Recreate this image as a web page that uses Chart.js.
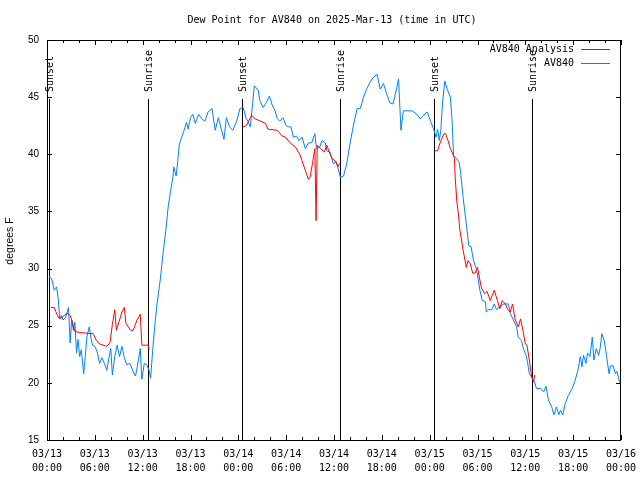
<!DOCTYPE html>
<html>
<head>
<meta charset="utf-8">
<script src="https://cdn.jsdelivr.net/npm/chart.js@4"></script>
<style>
body { margin:0; background:#fff; }
</style>
</head>
<body>
<canvas id="Diagramm" width="640" height="480"></canvas>
<script>
// hours since 03/13 00:00 UTC
var obsHours = [0.25,0.6,0.9,1.2,1.4,1.6,1.8,2.0,2.3,2.5,2.7,2.9,3.1,3.3,3.5,3.7,3.9,4.1,4.3,4.6,4.8,5.0,5.3,5.5,5.7,6.0,6.3,6.6,6.9,7.2,7.5,7.8,8.0,8.2,8.5,8.8,9.1,9.4,9.7,10.0,10.4,10.8,11.1,11.3,11.7,11.9,12.2,12.5,12.8,13.0,13.2,13.5,13.8,14.2,14.6,14.9,15.2,15.5,15.8,15.9,16.2,16.4,16.6,16.9,17.2,17.5,17.7,18.0,18.3,18.6,19.0,19.4,19.8,20.2,20.7,21.1,21.5,22.2,22.5,22.9,23.3,23.8,24.2,24.6,25.0,25.2,25.5,25.8,26.0,26.5,26.7,27.1,27.5,27.9,28.2,28.6,28.9,29.2,29.6,30.0,30.3,30.6,30.9,31.3,31.6,32.0,32.4,32.8,33.2,33.6,33.8,34.2,34.5,34.9,35.1,35.5,35.9,36.3,36.8,37.2,37.6,38.0,38.4,38.9,39.3,39.7,40.1,40.5,40.9,41.4,41.8,42.2,42.6,43.0,43.4,43.9,44.1,44.4,44.7,45.8,46.4,46.8,47.2,47.7,48.1,48.5,48.8,49.0,49.2,49.4,49.6,49.9,50.2,50.6,50.8,51.0,51.4,51.7,51.9,52.2,52.7,52.9,53.2,53.5,53.9,54.1,54.3,54.6,55.0,55.1,55.4,55.8,56.1,56.4,56.8,57.3,57.9,58.1,58.5,58.9,59.1,59.5,59.8,60.1,60.3,60.5,60.8,61.1,61.4,61.9,62.3,62.6,62.9,63.3,63.6,63.9,64.2,64.4,64.7,65.0,65.4,65.8,66.2,66.6,66.9,67.1,67.3,67.6,67.8,68.1,68.4,68.6,68.9,69.2,69.4,69.6,69.9,70.2,70.5,70.7,71.0,71.3,71.5,71.8,72.0];
var obsDew = [29.3,29.1,28.1,28.4,27.4,25.6,25.9,25.5,25.7,26.1,26.6,23.5,25.5,24.6,25.3,22.6,23.8,22.3,22.9,20.8,22.3,24.0,24.9,24.0,23.3,23.2,22.7,21.7,22.2,21.7,21.1,22.3,23.0,20.7,22.3,23.3,22.3,23.2,22.2,21.6,21.7,21.0,20.6,21.3,23.0,20.3,21.7,21.6,21.1,20.4,22.3,24.9,26.9,29.0,31.6,33.3,35.4,36.8,38.0,38.9,38.1,39.4,40.9,41.5,42.1,42.8,42.2,43.2,43.5,42.7,43.5,43.1,42.9,43.7,44.0,42.1,43.2,41.3,43.2,42.4,42.1,42.9,44.0,44.1,43.1,42.9,42.4,44.5,46.0,45.6,44.7,44.1,44.5,45.1,44.4,43.8,43.1,42.9,43.2,42.5,42.4,42.4,41.5,41.6,41.2,41.5,40.5,41.0,41.0,41.8,40.5,40.6,41.2,41.0,40.3,40.2,39.2,39.3,38.0,38.1,39.2,40.9,42.4,44.0,44.0,45.0,45.7,46.3,46.7,47.0,45.7,46.2,45.3,44.5,44.4,45.9,46.6,42.1,43.8,43.8,43.5,43.1,43.4,43.7,42.9,42.2,41.5,42.2,41.2,42.1,44.4,46.4,45.7,45.0,43.1,39.9,39.6,39.3,38.3,36.2,33.3,32.0,31.9,30.7,29.9,29.0,28.1,27.2,27.1,26.2,26.4,26.4,26.9,26.4,26.7,26.9,26.9,26.1,25.5,24.9,24.0,23.7,22.9,22.4,21.7,20.8,20.5,20.2,19.5,19.5,19.2,19.7,18.5,17.9,17.2,17.9,17.2,17.6,17.2,18.2,18.9,19.4,20.1,21.1,22.3,21.4,22.4,21.7,22.6,22.3,24.0,22.0,23.0,22.4,23.1,24.3,23.7,22.3,20.8,21.5,21.5,20.8,21.0,20.1,19.9];

// analysis, null = no data
var anaHours = [0.5,0.9,1.3,1.6,2.0,2.5,2.9,3.2,3.5,4.1,5.8,6.2,6.6,7.5,7.9,8.2,8.5,8.7,9.1,9.4,9.7,9.9,10.5,10.8,11.3,11.7,11.9,12.7,12.8,18,24.6,25.0,25.5,25.7,26.1,26.8,27.4,27.7,28.9,29.5,29.9,30.5,31.2,31.7,32.0,32.4,32.8,33.0,33.3,33.6,33.75,33.9,34.3,34.8,35.1,35.4,35.8,36.2,36.5,36.7,42,48.7,49.0,49.2,49.6,49.8,50.0,50.3,50.6,50.8,51.1,51.2,51.4,51.6,51.8,52.0,52.2,52.6,52.8,53.1,53.4,53.7,54.0,54.3,54.5,54.9,55.2,55.6,56.1,56.5,56.8,57.1,57.5,57.8,58.1,58.4,58.7,59.1,59.4,59.7,60.0,60.2,60.5,60.8,61.0,61.2];
var anaDew = [26.6,26.6,25.9,25.6,25.8,26.1,25.9,25.3,24.5,24.4,24.3,23.7,23.4,23.2,23.5,25.1,26.4,24.6,25.5,26.2,26.6,25.2,24.6,24.6,25.5,26.0,23.3,23.3,22.9,null,42.4,42.5,43.2,43.4,43.1,42.9,42.7,42.2,42.1,41.6,41.5,41.0,40.6,40.0,39.4,38.6,37.8,38.0,39.2,40.5,34.2,40.8,40.5,40.2,40.8,40.2,39.6,39.4,38.9,39.2,null,40.3,40.3,40.8,41.5,41.8,41.8,41.2,40.5,40.2,39.7,38.0,35.9,34.8,33.3,32.5,31.6,30.1,30.7,30.4,29.6,29.6,30.1,29.0,28.3,27.8,28.0,27.2,28.1,27.2,26.5,27.2,26.9,26.4,26.2,26.9,25.6,24.9,25.6,24.6,23.4,23.3,22.0,20.5,20.1,20.7];

var sunHours = [0.29, 12.7, 24.4, 36.7, 48.5, 60.8];
var sunLabels = ['Sunset','Sunrise','Sunset','Sunrise','Sunset','Sunrise'];

var xTickDates = ['03/13','03/13','03/13','03/13','03/14','03/14','03/14','03/14','03/15','03/15','03/15','03/15','03/16'];
var xTickTimes = ['00:00','06:00','12:00','18:00','00:00','06:00','12:00','18:00','00:00','06:00','12:00','18:00','00:00'];

var titel = 'Dew Point for AV840 on 2025-Mar-13 (time in UTC)';
var yBeschriftung = 'degrees F';

var ROT = '#ff0000';
var BLAU = '#0080ff';
var MONO = '"DejaVu Sans Mono", monospace';
var SANS = '"Liberation Sans", Arial, sans-serif';

function punkte(stunden, werte){
  var p = [];
  for(var i=0; i<stunden.length; i++){
    p.push({x: stunden[i], y: werte[i]});
  }
  return p;
}

var extras = {
  id: 'extras',
  beforeDatasetsDraw: function(chart){
    var ctx = chart.ctx, a = chart.chartArea, xs = chart.scales.x;
    ctx.save();
    ctx.strokeStyle = '#000';
    ctx.lineWidth = 1;
    ctx.fillStyle = '#000';
    ctx.font = '10px ' + MONO;
    for(var i=0; i<sunHours.length; i++){
      var px = Math.round(xs.getPixelForValue(sunHours[i])) + 0.5;
      ctx.beginPath();
      ctx.moveTo(px, a.top + 59);
      ctx.lineTo(px, a.bottom);
      ctx.stroke();
      ctx.save();
      ctx.translate(px + 1, a.top + 52);
      ctx.rotate(-Math.PI/2);
      ctx.textAlign = 'left';
      ctx.textBaseline = 'middle';
      ctx.fillText(sunLabels[i], 0, 0);
      ctx.restore();
    }
    ctx.restore();
  },
  afterDraw: function(chart){
    var ctx = chart.ctx, a = chart.chartArea, xs = chart.scales.x, ys = chart.scales.y;
    ctx.save();
    ctx.strokeStyle = '#000';
    ctx.lineWidth = 1;
    ctx.strokeRect(a.left + 0.5, a.top + 0.5, a.right - a.left - 1, a.bottom - a.top);

    // ticks inward, like gnuplot
    ctx.beginPath();
    for(var h=0; h<=72; h+=2){
      var px = Math.round(xs.getPixelForValue(h)) + 0.5;
      var len = (h % 6 == 0) ? 5 : 3;
      ctx.moveTo(px, a.bottom); ctx.lineTo(px, a.bottom - len);
      ctx.moveTo(px, a.top); ctx.lineTo(px, a.top + len);
    }
    for(var v=15; v<=50; v+=5){
      var py = Math.round(ys.getPixelForValue(v)) + 0.5;
      ctx.moveTo(a.left, py); ctx.lineTo(a.left + 5, py);
      ctx.moveTo(a.right, py); ctx.lineTo(a.right - 5, py);
    }
    ctx.stroke();

    ctx.fillStyle = '#000';
    ctx.font = '10px ' + MONO;
    ctx.textAlign = 'center';
    ctx.textBaseline = 'middle';
    ctx.fillText(titel, 332, 20);

    ctx.save();
    ctx.font = '10.5px ' + SANS;
    ctx.translate(10, 241);
    ctx.rotate(-Math.PI/2);
    ctx.fillText(yBeschriftung, 0, 0);
    ctx.restore();

    // legend top right
    var namen = ['AV840 Analysis', 'AV840'];
    var farben = [ROT, BLAU];
    ctx.font = '10px ' + MONO;
    ctx.textAlign = 'right';
    for(var j=0; j<namen.length; j++){
      var ly = 49 + j*14;
      ctx.fillStyle = '#000';
      ctx.fillText(namen[j], 574, ly);
      ctx.fillStyle = farben[j];
      ctx.fillRect(581, ly, 29, 1);
    }
    ctx.restore();
  }
};

const CHART = document.getElementById("Diagramm");

let taupunktDiagramm = new Chart(CHART, {
  type: 'line',
  data: {
    datasets: [{
      label: 'AV840 Analysis',
      data: punkte(anaHours, anaDew),
      borderColor: ROT,
      backgroundColor: ROT,
      borderWidth: 1,
      pointRadius: 0,
      fill: false,
      spanGaps: false
    }, {
      label: 'AV840',
      data: punkte(obsHours, obsDew),
      borderColor: BLAU,
      backgroundColor: BLAU,
      borderWidth: 1,
      pointRadius: 0,
      fill: false
    }]
  },
  options: {
    responsive: false,
    animation: false,
    devicePixelRatio: 1,
    layout: { padding: { top: 40, right: 19, left: 0, bottom: 0 } },
    plugins: { legend: { display: false }, title: { display: false }, tooltip: { enabled: false } },
    scales: {
      x: {
        type: 'linear', min: 0, max: 72,
        grid: { display: false, drawTicks: false },
        border: { display: false },
        afterFit: function(s){ s.height = 40; s.paddingLeft = 0; s.paddingRight = 0; },
        ticks: {
          stepSize: 6, autoSkip: false, maxRotation: 0, minRotation: 0,
          padding: 7, color: '#000',
          font: { family: MONO, size: 10, lineHeight: 1.45 },
          callback: function(v){ var k = Math.round(v/6); return [xTickDates[k], xTickTimes[k]]; }
        }
      },
      y: {
        min: 15, max: 50,
        grid: { display: false, drawTicks: false },
        border: { display: false },
        afterFit: function(s){ s.width = 47; s.paddingTop = 0; s.paddingBottom = 0; },
        ticks: { stepSize: 5, padding: 8, color: '#000', font: { family: SANS, size: 10 } }
      }
    }
  },
  plugins: [extras]
});
</script>
</body>
</html>
